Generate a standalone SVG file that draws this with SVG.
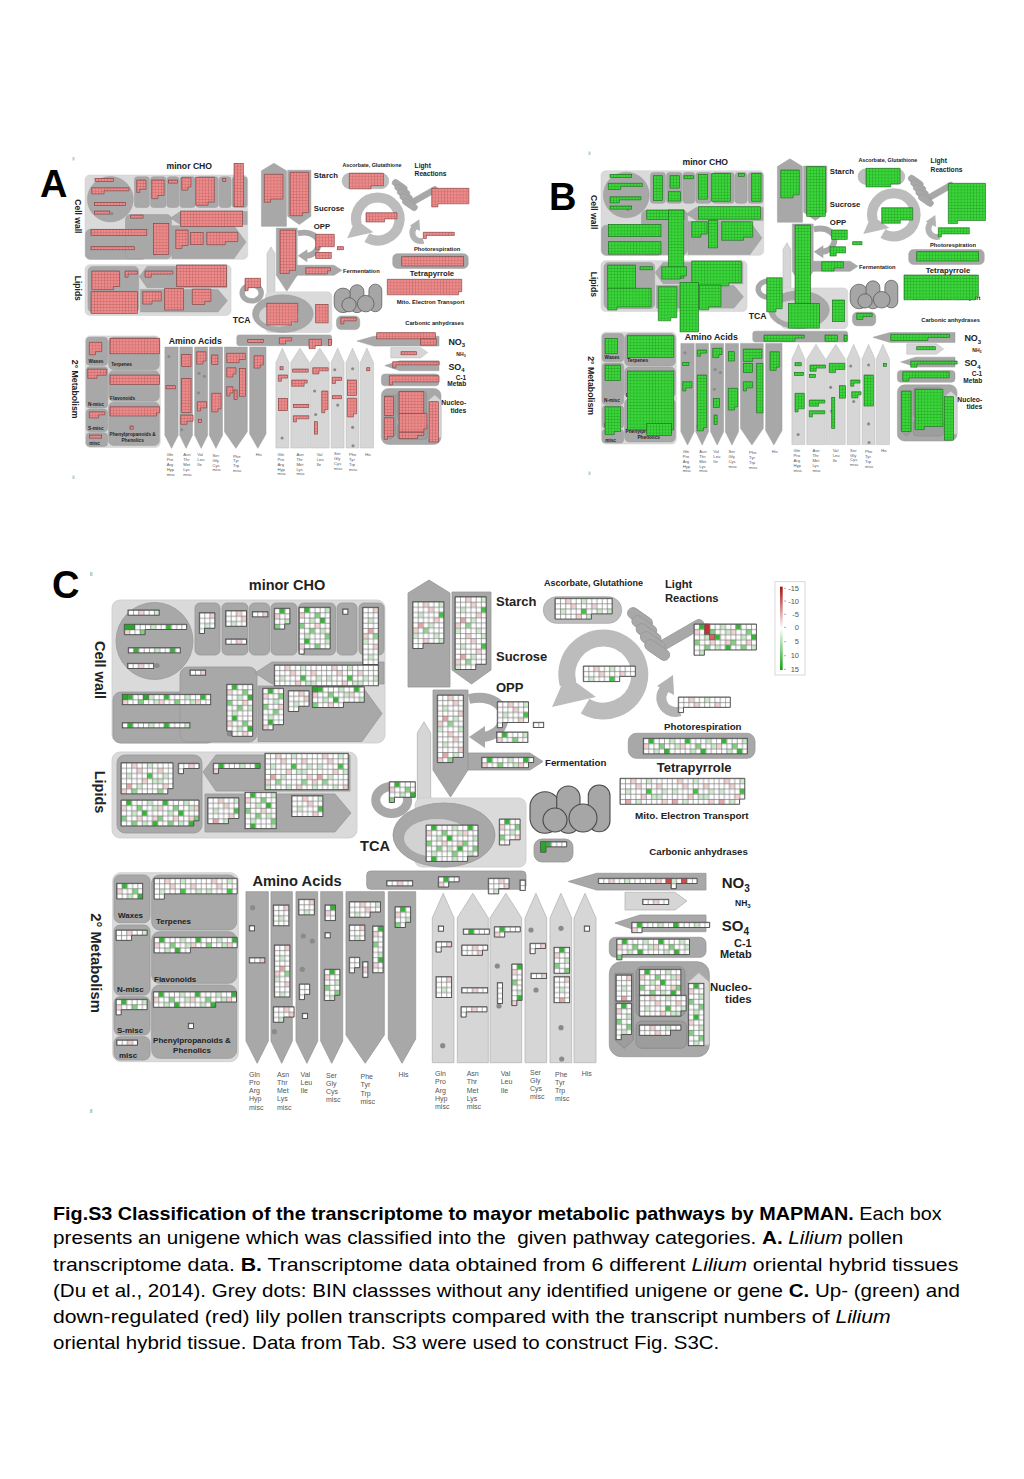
<svg xmlns="http://www.w3.org/2000/svg" width="1024" height="1479" viewBox="0 0 1024 1479">
<style>
.lb{fill:#dadada;stroke:#cdcdcd;stroke-width:.8}
.md{fill:#a8a8a8;stroke:#989898;stroke-width:.8}
.mn{fill:#9d9d9d;stroke:#888;stroke-width:.8}
.lt{fill:#d6d6d6;stroke:#b6b6b6;stroke-width:.8}
.mi{fill:#a6a6a6;stroke:#4a4a4a;stroke-width:1.1}
.dot{fill:#8a8a8a}
.t{font-family:"Liberation Sans",Arial,sans-serif;font-weight:bold;fill:#222}
.s{font-family:"Liberation Sans",Arial,sans-serif;fill:#555;font-size:7px}
.bc{fill:url(#gC);stroke:#4a4a4a;stroke-width:.9}
.bc2{fill:url(#gC2);stroke:#4a4a4a;stroke-width:.9}
.ba{fill:url(#gA);stroke:#7d3d3d;stroke-width:.6}
.bb{fill:url(#gB);stroke:#1a6a1a;stroke-width:.6}
.ov rect{stroke:#555;stroke-width:.6}
.cap{font-family:"Liberation Sans",Arial,sans-serif;font-size:18.5px;fill:#000}
.let{font-family:"Liberation Sans",Arial,sans-serif;font-weight:bold;font-size:38px;fill:#000}
</style>
<defs>
<pattern id="gC" width="46.8" height="36.4" patternUnits="userSpaceOnUse">
<rect width="46.8" height="36.4" fill="#fff"/>
<g fill="#f2d0d0"><rect x="10.4" y="0" width="5.2" height="5.2"/><rect x="36.4" y="5.2" width="5.2" height="5.2"/><rect x="20.8" y="15.6" width="5.2" height="5.2"/><rect x="0" y="26" width="5.2" height="5.2"/><rect x="31.2" y="31.2" width="5.2" height="5.2"/><rect x="41.6" y="20.8" width="5.2" height="5.2"/><rect x="15.6" y="5.2" width="5.2" height="5.2"/></g>
<rect x="5.2" y="20.8" width="5.2" height="5.2" fill="#e6a6a6"/>
<g fill="#cdebcd"><rect x="26" y="0" width="5.2" height="5.2"/><rect x="5.2" y="10.4" width="5.2" height="5.2"/><rect x="41.6" y="10.4" width="5.2" height="5.2"/><rect x="15.6" y="20.8" width="5.2" height="5.2"/><rect x="31.2" y="15.6" width="5.2" height="5.2"/><rect x="0" y="31.2" width="5.2" height="5.2"/><rect x="20.8" y="31.2" width="5.2" height="5.2"/><rect x="36.4" y="15.6" width="5.2" height="5.2"/></g>
<g fill="#8fd88f"><rect x="36.4" y="26" width="5.2" height="5.2"/><rect x="10.4" y="26" width="5.2" height="5.2"/></g>
<rect x="26" y="10.4" width="5.2" height="5.2" fill="#3ec43e"/>
<path d="M0.35 0V36.4M5.55 0V36.4M10.75 0V36.4M15.95 0V36.4M21.15 0V36.4M26.35 0V36.4M31.55 0V36.4M36.75 0V36.4M41.95 0V36.4M0 0.35H46.8M0 5.55H46.8M0 10.75H46.8M0 15.95H46.8M0 21.15H46.8M0 26.35H46.8M0 31.55H46.8" stroke="#7a7a7a" stroke-width=".7"/>
</pattern>
<pattern id="gC2" width="36.4" height="31.2" patternUnits="userSpaceOnUse">
<rect width="36.4" height="31.2" fill="#fff"/>
<g fill="#2eb82e"><rect x="5.2" y="0" width="5.2" height="5.2"/><rect x="20.8" y="10.4" width="5.2" height="5.2"/><rect x="31.2" y="20.8" width="5.2" height="5.2"/></g>
<g fill="#7dd37d"><rect x="15.6" y="5.2" width="5.2" height="5.2"/><rect x="0" y="15.6" width="5.2" height="5.2"/><rect x="26" y="26" width="5.2" height="5.2"/><rect x="10.4" y="20.8" width="5.2" height="5.2"/></g>
<g fill="#c9eac9"><rect x="26" y="0" width="5.2" height="5.2"/><rect x="10.4" y="10.4" width="5.2" height="5.2"/><rect x="31.2" y="5.2" width="5.2" height="5.2"/><rect x="5.2" y="26" width="5.2" height="5.2"/><rect x="20.8" y="20.8" width="5.2" height="5.2"/></g>
<g fill="#f2d2d2"><rect x="0" y="5.2" width="5.2" height="5.2"/><rect x="15.6" y="15.6" width="5.2" height="5.2"/><rect x="31.2" y="15.6" width="5.2" height="5.2"/></g>
<path d="M0.35 0V31.2M5.55 0V31.2M10.75 0V31.2M15.95 0V31.2M21.15 0V31.2M26.35 0V31.2M31.55 0V31.2M0 0.35H36.4M0 5.55H36.4M0 10.75H36.4M0 15.95H36.4M0 21.15H36.4M0 26.35H36.4" stroke="#7a7a7a" stroke-width=".7"/>
</pattern>
<pattern id="gA" width="3.1" height="3.1" patternUnits="userSpaceOnUse">
<rect width="3.1" height="3.1" fill="#f08a8a"/><path d="M0.2 0V3.1M0 0.2H3.1" stroke="#a35a5a" stroke-width=".4"/>
</pattern>
<pattern id="gB" width="3.1" height="3.1" patternUnits="userSpaceOnUse">
<rect width="3.1" height="3.1" fill="#3ad63a"/><path d="M0.2 0V3.1M0 0.2H3.1" stroke="#1f8a1f" stroke-width=".4"/>
</pattern>
<linearGradient id="lg" x1="0" y1="0" x2="0" y2="1"><stop offset="0" stop-color="#a81010"/><stop offset=".5" stop-color="#fff"/><stop offset="1" stop-color="#12a012"/></linearGradient>

<g id="map">
<g id="cellwall">
<rect class="lb" x="112" y="600" width="273" height="143" rx="8"/>
<circle class="md" cx="154.5" cy="641" r="38.5"/>
<rect class="md" x="195" y="603" width="25" height="52" rx="5"/>
<rect class="md" x="222" y="603" width="26" height="52" rx="5"/>
<rect class="md" x="249.5" y="603" width="20" height="52" rx="5"/>
<rect class="md" x="271" y="603" width="26" height="52" rx="5"/>
<rect class="md" x="298.5" y="603" width="37" height="52" rx="5"/>
<rect class="md" x="337" y="603" width="20" height="52" rx="5"/>
<rect class="md" x="359" y="603" width="25" height="52" rx="5"/>
<rect class="md" x="113" y="692" width="102" height="51" rx="8"/>
<rect class="md" x="180" y="667" width="77" height="75" rx="8"/>
<polygon class="md" points="255,673 272,662 384,662 384,684 272,684"/>
<polygon class="md" points="258,686 362,686 382,713.5 362,741.5 258,741.5"/>
<text class="t" x="287" y="590" font-size="14.5" text-anchor="middle">minor CHO</text>
<text class="t" transform="translate(95,670) rotate(90)" font-size="14.5" text-anchor="middle">Cell wall</text>
<circle class="dot" cx="157" cy="665.5" r="2.6"/>
<circle class="dot" cx="229.3" cy="733.7" r="2.6"/>
</g>
<g id="lipids">
<rect class="lb" x="112" y="752" width="245" height="86" rx="8"/>
<rect class="md" x="117" y="755" width="85" height="78" rx="8"/>
<polygon class="md" points="203,772 216,755 350,755 350,791 216,791"/>
<polygon class="md" points="205,794 335,794 351,813 335,832 205,832"/>
<text class="t" transform="translate(95,792) rotate(90)" font-size="14.5" text-anchor="middle">Lipids</text>
</g>
<g id="starch">
<polygon class="md" points="408,593 429,580 450,593 450,687 408,687"/>
<polygon class="md" points="452,592 491,592 491,670 471.5,684 452,670"/>
<text class="t" x="496" y="605.5" font-size="13">Starch</text>
<text class="t" x="496" y="661" font-size="13">Sucrose</text>
</g>
<g id="opp">
<polygon class="md" points="433,690 468,690 468,770 450.5,797 433,770"/>
<polygon class="md" points="468,753 530,753 543,761.5 530,770 468,770"/>
<path d="M469 699 C490 694 508 705 503 722 C500 732 492 736 483 737" fill="none" stroke="#a8a8a8" stroke-width="10"/>
<polygon fill="#a8a8a8" points="469,737 485,726 485,748"/>
<text class="t" x="496" y="692" font-size="13">OPP</text>
<text class="t" x="545" y="765.5" font-size="9.7">Fermentation</text>
</g>
<g id="tca">
<polygon class="lt" points="417.3,733 424,721.7 430.7,733 430.7,801 417.3,801"/>
<ellipse cx="391.7" cy="800" rx="16" ry="13.5" fill="none" stroke="#a8a8a8" stroke-width="9"/>
<rect class="lb" x="415" y="798" width="111" height="69" rx="7"/>
<ellipse class="md" cx="444" cy="835" rx="51" ry="32"/>
<ellipse cx="437" cy="838" rx="33" ry="19" fill="#d2d2d2"/>
<text class="t" x="360" y="850.7" font-size="14.6">TCA</text>
</g>
<g id="mito">
<rect class="mi" x="530" y="791.7" width="30" height="41.6" rx="15"/>
<rect class="mi" x="556.7" y="786" width="23.3" height="47.3" rx="11.6"/>
<rect class="mi" x="588.3" y="785" width="21.7" height="46.7" rx="10.8"/>
<circle class="mi" cx="555" cy="820" r="12"/>
<circle class="mi" cx="583" cy="818" r="14"/>
<rect class="md" x="534" y="839" width="39" height="23" rx="8"/>
<text class="t" x="635" y="818.5" font-size="9.9">Mito. Electron Transport</text>
<text class="t" x="649.3" y="855" font-size="9.7">Carbonic anhydrases</text>
</g>
<g id="light">
<rect x="543.3" y="596.7" width="78.4" height="26.6" rx="13.3" fill="#bdbdbd" stroke="#aaa" stroke-width=".8"/>
<text class="t" x="544" y="586" font-size="9">Ascorbate, Glutathione</text>
<rect class="md" x="-28" y="-5" width="56" height="10" rx="5" transform="translate(679,636) rotate(-30)"/>
<rect class="md" x="-14" y="-5.5" width="28" height="11" rx="5.5" transform="translate(640,618) rotate(35)"/>
<rect class="md" x="-14" y="-5.5" width="28" height="11" rx="5.5" transform="translate(644.3,626) rotate(35)"/>
<rect class="md" x="-14" y="-5.5" width="28" height="11" rx="5.5" transform="translate(648.6,634) rotate(35)"/>
<rect class="md" x="-14" y="-5.5" width="28" height="11" rx="5.5" transform="translate(652.9,642) rotate(35)"/>
<rect class="md" x="-14" y="-5.5" width="28" height="11" rx="5.5" transform="translate(657.2,650) rotate(35)"/>
<text class="t" x="665" y="587.5" font-size="11.2">Light</text>
<text class="t" x="665" y="601.5" font-size="11.2">Reactions</text>
<path d="M585.05 706.1 A36.5 36.5 0 1 0 568.04 683.95" fill="none" stroke="#bcbcbc" stroke-width="17"/>
<polygon fill="#bcbcbc" points="552,707 566,675 596,697"/>
<path d="M672.6 684.2 A14 14 0 1 0 679.8 711.2" fill="none" stroke="#b3b3b3" stroke-width="10"/>
<polygon fill="#b3b3b3" points="657,686 673,675 674,695"/>
<text class="t" x="664" y="729.5" font-size="9.7">Photorespiration</text>
<rect class="md" x="628.3" y="733.3" width="126.7" height="25" rx="8"/>
<text class="t" x="656.7" y="772" font-size="13">Tetrapyrrole</text>
</g>
<g id="nitrogen">
<polygon class="md" points="568.3,881.5 596.7,873.3 706,873.3 706,890 596.7,890"/>
<polygon class="lt" points="625,892.3 675,892.3 687,901 675,910 625,910"/>
<polygon class="md" points="615,923 640,915 706,915 706,931.7 640,931.7"/>
<rect class="md" x="609.3" y="937.3" width="96.7" height="20" rx="6"/>
<text class="t" x="721.7" y="888.3" font-size="15">NO<tspan font-size="10" dy="4">3</tspan></text>
<text class="t" x="735" y="906" font-size="8.5">NH<tspan font-size="6" dy="2">3</tspan></text>
<text class="t" x="721.7" y="930.5" font-size="15">SO<tspan font-size="10" dy="4">4</tspan></text>
<text class="t" x="751.7" y="947" font-size="11" text-anchor="end">C-1</text>
<text class="t" x="751.7" y="958" font-size="11" text-anchor="end">Metab</text>
</g>
<g id="nucleotides">
<rect class="md" x="609.3" y="961.7" width="100" height="95" rx="12"/>
<polygon class="mn" points="615,973.3 633.3,973.3 633.3,1040 624.2,1048.3 615,1040"/>
<rect class="mn" x="636" y="966.7" width="49" height="50" rx="6"/>
<rect class="mn" x="636" y="1021" width="50.7" height="27.3" rx="6"/>
<polygon class="lt" points="688.3,982 698.8,972.7 709.3,982 709.3,1045 688.3,1045"/>
<text class="t" x="751.7" y="990.5" font-size="11.4" text-anchor="end">Nucleo-</text>
<text class="t" x="751.7" y="1003.3" font-size="11.4" text-anchor="end">tides</text>
</g>
<g id="secondary">
<rect class="lb" x="112.7" y="872.7" width="125.6" height="189" rx="8"/>
<rect class="md" x="114" y="875" width="36" height="47.7" rx="6"/>
<rect class="md" x="114" y="925" width="36" height="70" rx="6"/>
<rect class="md" x="114" y="996.7" width="36" height="38.3" rx="6"/>
<rect class="md" x="114" y="1036.7" width="36" height="23.3" rx="6"/>
<rect class="md" x="151.7" y="875" width="85" height="55" rx="8"/>
<rect class="md" x="151.7" y="931.7" width="85" height="51.6" rx="8"/>
<rect class="md" x="151.7" y="985" width="85" height="73.3" rx="8"/>
<text class="t" transform="translate(91,963) rotate(90)" font-size="14.8" text-anchor="middle">2° Metabolism</text>
<g font-size="8" style="fill:#333">
<text class="t" x="118" y="918">Waxes</text>
<text class="t" x="156" y="924">Terpenes</text>
<text class="t" x="154" y="981.5">Flavonoids</text>
<text class="t" x="117" y="991.5">N-misc</text>
<text class="t" x="117" y="1032.5">S-misc</text>
<text class="t" x="119" y="1057.5">misc</text>
<text class="t" x="192" y="1043" text-anchor="middle">Phenylpropanoids &amp;</text>
<text class="t" x="192" y="1053" text-anchor="middle">Phenolics</text>
</g>
</g>
<g id="aminoacids">
<rect class="md" x="366.7" y="871" width="159.3" height="18.3" rx="4"/>
<polygon class="md" points="246,891.7 268.3,891.7 268.3,1041 257.2,1063.3 246,1041"/>
<polygon class="md" points="271,891.7 292.3,891.7 292.3,1041 281.7,1063.3 271,1041"/>
<polygon class="md" points="296,891.7 317.7,891.7 317.7,1041 306.9,1063.3 296,1041"/>
<polygon class="md" points="320.7,891.7 342.7,891.7 342.7,1041 331.7,1063.3 320.7,1041"/>
<polygon class="md" points="346,891.7 384.3,891.7 384.3,1035 365.2,1063.3 346,1035"/>
<polygon class="md" points="388.3,891.7 415.7,891.7 415.7,1039 402,1063.3 388.3,1039"/>
<polygon class="lt" points="432.3,918 443.2,893.3 454,918 454,1062.7 432.3,1062.7"/>
<polygon class="lt" points="457.3,918 472.8,893.3 488.3,918 488.3,1062.7 457.3,1062.7"/>
<polygon class="lt" points="490,918 505.9,893.3 521.7,918 521.7,1062.7 490,1062.7"/>
<polygon class="lt" points="525,918 535.9,893.3 546.7,918 546.7,1062.7 525,1062.7"/>
<polygon class="lt" points="550,918 560.9,893.3 571.7,918 571.7,1062.7 550,1062.7"/>
<polygon class="lt" points="574,918 585,893.3 596,918 596,1062.7 574,1062.7"/>
<text class="t" x="297" y="886" font-size="14.7" text-anchor="middle">Amino Acids</text>
<circle class="dot" cx="252.7" cy="907.7" r="2.6"/>
<circle class="dot" cx="274.3" cy="1031.7" r="2.6"/>
<circle class="dot" cx="303.3" cy="936" r="2.6"/>
<circle class="dot" cx="312.3" cy="941" r="2.6"/>
<circle class="dot" cx="302.3" cy="969.3" r="2.6"/>
<circle class="dot" cx="442.7" cy="1045.7" r="2.6"/>
<circle class="dot" cx="497.3" cy="966" r="2.6"/>
<circle class="dot" cx="499" cy="1006" r="2.6"/>
<circle class="dot" cx="531" cy="930" r="2.6"/>
<circle class="dot" cx="536" cy="990" r="2.6"/>
<circle class="dot" cx="561" cy="928.3" r="2.6"/>
<circle class="dot" cx="561" cy="1027.7" r="2.6"/>
<circle class="dot" cx="561.7" cy="1059" r="2.6"/>
<text class="s" x="249" y="1076.5"><tspan x="249">Gln</tspan><tspan x="249" dy="8.3">Pro</tspan><tspan x="249" dy="8.3">Arg</tspan><tspan x="249" dy="8.3">Hyp</tspan><tspan x="249" dy="8.3">misc</tspan></text>
<text class="s" x="277" y="1076.5"><tspan x="277">Asn</tspan><tspan x="277" dy="8.3">Thr</tspan><tspan x="277" dy="8.3">Met</tspan><tspan x="277" dy="8.3">Lys</tspan><tspan x="277" dy="8.3">misc</tspan></text>
<text class="s" x="300.5" y="1076.5"><tspan x="300.5">Val</tspan><tspan x="300.5" dy="8.3">Leu</tspan><tspan x="300.5" dy="8.3">Ile</tspan></text>
<text class="s" x="326" y="1077.5"><tspan x="326">Ser</tspan><tspan x="326" dy="8.3">Gly</tspan><tspan x="326" dy="8.3">Cys</tspan><tspan x="326" dy="8.3">misc</tspan></text>
<text class="s" x="360.5" y="1079"><tspan x="360.5">Phe</tspan><tspan x="360.5" dy="8.3">Tyr</tspan><tspan x="360.5" dy="8.3">Trp</tspan><tspan x="360.5" dy="8.3">misc</tspan></text>
<text class="s" x="398.5" y="1076.5">His</text>
<text class="s" x="435" y="1076"><tspan x="435">Gln</tspan><tspan x="435" dy="8.3">Pro</tspan><tspan x="435" dy="8.3">Arg</tspan><tspan x="435" dy="8.3">Hyp</tspan><tspan x="435" dy="8.3">misc</tspan></text>
<text class="s" x="466.7" y="1076"><tspan x="466.7">Asn</tspan><tspan x="466.7" dy="8.3">Thr</tspan><tspan x="466.7" dy="8.3">Met</tspan><tspan x="466.7" dy="8.3">Lys</tspan><tspan x="466.7" dy="8.3">misc</tspan></text>
<text class="s" x="500.7" y="1076"><tspan x="500.7">Val</tspan><tspan x="500.7" dy="8.3">Leu</tspan><tspan x="500.7" dy="8.3">Ile</tspan></text>
<text class="s" x="530" y="1074.5"><tspan x="530">Ser</tspan><tspan x="530" dy="8.3">Gly</tspan><tspan x="530" dy="8.3">Cys</tspan><tspan x="530" dy="8.3">misc</tspan></text>
<text class="s" x="555" y="1076.5"><tspan x="555">Phe</tspan><tspan x="555" dy="8.3">Tyr</tspan><tspan x="555" dy="8.3">Trp</tspan><tspan x="555" dy="8.3">misc</tspan></text>
<text class="s" x="581.7" y="1076">His</text>
</g>
</g>
</defs>

<rect width="1024" height="1479" fill="#fff"/>

<g id="panelA">
<use href="#map" transform="translate(18.25,-179) scale(0.596,0.59)"/>
<g id="blocksA">
<rect class="ba" transform="translate(95 178.3)" width="18.6" height="3.1"/>
<path class="ba" transform="translate(91.7 187.7)" d="M0 0H37.2V3.1H12.4V6.2H0Z"/>
<rect class="ba" transform="translate(94.3 202.3)" width="31" height="3.1"/>
<rect class="ba" transform="translate(94.3 211)" width="15.5" height="3.1"/>
<rect class="ba" transform="translate(130.7 215)" width="12.4" height="3.1"/>
<rect class="ba" transform="translate(91 229.3)" width="55.8" height="6.2"/>
<rect class="ba" transform="translate(91 246.7)" width="43.4" height="3.1"/>
<rect class="ba" transform="translate(153.3 223.3)" width="15.5" height="31"/>
<path class="ba" transform="translate(136.7 180)" d="M0 0H9.3V9.3H3.1V12.4H0Z"/>
<path class="ba" transform="translate(151.7 180)" d="M0 0H12.4V15.5H6.2V18.6H0Z"/>
<rect class="ba" transform="translate(168.3 180)" width="9.3" height="3.1"/>
<path class="ba" transform="translate(181.7 177.7)" d="M0 0H9.3V9.3H6.2V12.4H0Z"/>
<path class="ba" transform="translate(195.7 177.3)" d="M0 0H18.6V24.8H12.4V27.9H0Z"/>
<rect class="ba" transform="translate(222.7 178.3)" width="3.1" height="3.1"/>
<rect class="ba" transform="translate(234 163.3)" width="9.3" height="43.4"/>
<rect class="ba" transform="translate(180.7 211)" width="62" height="15.5"/>
<path class="ba" transform="translate(175.7 230)" d="M0 0H12.4V15.5H6.2V18.6H0Z"/>
<rect class="ba" transform="translate(190.7 232.3)" width="12.4" height="12.4"/>
<path class="ba" transform="translate(206.7 232.3)" d="M0 0H31V9.3H18.6V12.4H0Z"/>
<path class="ba" transform="translate(91.7 271)" d="M0 0H27.9V15.5H21.7V18.6H0Z"/>
<path class="ba" transform="translate(125 271)" d="M0 0H12.4V3.1H3.1V6.2H0Z"/>
<path class="ba" transform="translate(145 271)" d="M0 0H27.9V3.1H6.2V6.2H0Z"/>
<rect class="ba" transform="translate(176.7 265)" width="49.6" height="21.7"/>
<rect class="ba" transform="translate(91 291.7)" width="46.5" height="21.7"/>
<path class="ba" transform="translate(142.7 291.7)" d="M0 0H18.6V9.3H9.3V12.4H0Z"/>
<rect class="ba" transform="translate(164.7 288.3)" width="18.6" height="21.7"/>
<path class="ba" transform="translate(192.3 289)" d="M0 0H18.6V12.4H12.4V15.5H0Z"/>
<path class="ba" transform="translate(245 278.3)" d="M0 0H15.5V9.3H3.1V12.4H0Z"/>
<path class="ba" transform="translate(266.7 303.3)" d="M0 0H31V18.6H24.8V21.7H0Z"/>
<rect class="ba" transform="translate(315.7 304.3)" width="12.4" height="18.6"/>
<path class="ba" transform="translate(340.7 317.7)" d="M0 0H15.5V3.1H3.1V6.2H0Z"/>
<path class="ba" transform="translate(264.3 174.3)" d="M0 0H18.6V24.8H6.2V27.9H0Z"/>
<path class="ba" transform="translate(290 172.3)" d="M0 0H18.6V40.3H12.4V43.4H0Z"/>
<path class="ba" transform="translate(280 230)" d="M0 0H15.5V40.3H9.3V43.4H0Z"/>
<path class="ba" transform="translate(315.7 234.3)" d="M0 0H18.6V12.4H3.1V15.5H0Z"/>
<rect class="ba" transform="translate(337.3 246.7)" width="6.2" height="3.1"/>
<rect class="ba" transform="translate(315.7 252.3)" width="15.5" height="6.2"/>
<path class="ba" transform="translate(305.7 267.7)" d="M0 0H24.8V3.1H21.7V6.2H0Z"/>
<path class="ba" transform="translate(349.3 173.3)" d="M0 0H34.1V12.4H21.7V15.5H0Z"/>
<path class="ba" transform="translate(431.7 188.3)" d="M0 0H37.2V15.5H6.2V18.6H0Z"/>
<path class="ba" transform="translate(366 212.7)" d="M0 0H31V6.2H18.6V9.3H0Z"/>
<path class="ba" transform="translate(423.3 232.3)" d="M0 0H31V3.1H3.1V6.2H0Z"/>
<rect class="ba" transform="translate(401.7 256.7)" width="62" height="9.3"/>
<path class="ba" transform="translate(387.3 279.3)" d="M0 0H74.4V12.4H71.3V15.5H0Z"/>
<rect class="ba" transform="translate(247.7 339.3)" width="15.5" height="3.1"/>
<path class="ba" transform="translate(279.3 337.7)" d="M0 0H12.4V3.1H6.2V6.2H0Z"/>
<path class="ba" transform="translate(309 339.3)" d="M0 0H12.4V6.2H6.2V9.3H0Z"/>
<rect class="ba" transform="translate(328.3 339.3)" width="3.1" height="6.2"/>
<rect class="ba" transform="translate(376.7 332.7)" width="58.9" height="6.2"/>
<rect class="ba" transform="translate(420.7 338.9)" width="15.5" height="6.2"/>
<rect class="ba" transform="translate(401 351.7)" width="15.5" height="3.1"/>
<path class="ba" transform="translate(392.7 361.7)" d="M0 0H46.5V3.1H3.1V6.2H0Z"/>
<path class="ba" transform="translate(389.3 375.7)" d="M0 0H49.6V6.2H3.1V9.3H0Z"/>
<rect class="ba" transform="translate(384.3 396.7)" width="9.3" height="18.6"/>
<path class="ba" transform="translate(384.3 417.7)" d="M0 0H9.3V18.6H3.1V21.7H0Z"/>
<rect class="ba" transform="translate(399 391.7)" width="24.8" height="21.7"/>
<path class="ba" transform="translate(399 413.4)" d="M0 0H27.9V15.5H24.8V18.6H0Z"/>
<path class="ba" transform="translate(399 432.3)" d="M0 0H24.8V3.1H18.6V6.2H0Z"/>
<rect class="ba" transform="translate(429 401.7)" width="9.3" height="40.3"/>
<path class="ba" transform="translate(89.3 342.3)" d="M0 0H12.4V9.3H6.2V12.4H0Z"/>
<path class="ba" transform="translate(87.7 369)" d="M0 0H18.6V6.2H9.3V9.3H0Z"/>
<path class="ba" transform="translate(89.3 411.7)" d="M0 0H15.5V3.1H9.3V6.2H0Z"/>
<rect class="ba" transform="translate(89.3 435)" width="12.4" height="3.1"/>
<rect class="ba" transform="translate(110 338.3)" width="49.6" height="15.5"/>
<rect class="ba" transform="translate(110 375)" width="49.6" height="9.3"/>
<path class="ba" transform="translate(110 406.7)" d="M0 0H49.6V6.2H46.5V9.3H0Z"/>
<rect class="ba" transform="translate(130 426)" width="3.1" height="3.1"/>
<rect class="ba" transform="translate(166 385.7)" width="9.3" height="3.1"/>
<rect class="ba" transform="translate(181.7 354.3)" width="9.3" height="12.4"/>
<rect class="ba" transform="translate(181.7 378.3)" width="9.3" height="34.1"/>
<path class="ba" transform="translate(180.7 415)" d="M0 0H12.4V6.2H6.2V9.3H0Z"/>
<path class="ba" transform="translate(196.7 351.7)" d="M0 0H9.3V9.3H6.2V12.4H0Z"/>
<path class="ba" transform="translate(197.3 401.7)" d="M0 0H9.3V6.2H3.1V9.3H0Z"/>
<rect class="ba" transform="translate(198.3 419.3)" width="3.1" height="3.1"/>
<rect class="ba" transform="translate(211.7 355)" width="6.2" height="9.3"/>
<path class="ba" transform="translate(211.7 393.3)" d="M0 0H9.3V15.5H6.2V18.6H0Z"/>
<path class="ba" transform="translate(226.7 353.3)" d="M0 0H18.6V6.2H12.4V9.3H0Z"/>
<path class="ba" transform="translate(226.7 367.7)" d="M0 0H9.3V6.2H6.2V9.3H0Z"/>
<rect class="ba" transform="translate(239.3 368.3)" width="6.2" height="27.9"/>
<path class="ba" transform="translate(226.7 386.7)" d="M0 0H6.2V6.2H3.1V9.3H0Z"/>
<rect class="ba" transform="translate(234 390)" width="3.1" height="9.3"/>
<path class="ba" transform="translate(254 355.7)" d="M0 0H9.3V9.3H6.2V12.4H0Z"/>
<rect class="ba" transform="translate(280 366.7)" width="3.1" height="3.1"/>
<path class="ba" transform="translate(278.3 375)" d="M0 0H9.3V3.1H3.1V6.2H0Z"/>
<rect class="ba" transform="translate(278.3 398.3)" width="9.3" height="12.4"/>
<rect class="ba" transform="translate(292.7 369)" width="15.5" height="3.1"/>
<path class="ba" transform="translate(291.7 380)" d="M0 0H15.5V3.1H12.4V6.2H0Z"/>
<rect class="ba" transform="translate(293.3 404.3)" width="15.5" height="3.1"/>
<path class="ba" transform="translate(293.3 415.7)" d="M0 0H15.5V3.1H3.1V6.2H0Z"/>
<path class="ba" transform="translate(312.7 367.7)" d="M0 0H15.5V3.1H6.2V6.2H0Z"/>
<rect class="ba" transform="translate(314.3 421.7)" width="3.1" height="12.4"/>
<path class="ba" transform="translate(321.7 391)" d="M0 0H6.2V18.6H3.1V21.7H0Z"/>
<path class="ba" transform="translate(332.3 377.3)" d="M0 0H9.3V3.1H3.1V6.2H0Z"/>
<rect class="ba" transform="translate(332.3 395.7)" width="9.3" height="3.1"/>
<rect class="ba" transform="translate(347.3 380)" width="9.3" height="15.5"/>
<path class="ba" transform="translate(347.3 398.3)" d="M0 0H9.3V15.5H6.2V18.6H0Z"/>
<rect class="ba" transform="translate(366.7 367.7)" width="3.1" height="3.1"/>
</g>
<text class="let" x="40" y="197">A</text>
<rect x="72.5" y="157" width="2" height="3.5" fill="#b5d6bd"/>
<rect x="72.5" y="475.5" width="2" height="3.5" fill="#b5d6bd"/>
</g>

<g id="panelB">
<use href="#map" transform="translate(534.25,-184.5) scale(0.596,0.592)"/>
<g id="blocksB">
<rect class="bb" transform="translate(610 174.3)" width="21.7" height="3.1"/>
<path class="bb" transform="translate(608.3 183.3)" d="M0 0H34.1V3.1H12.4V6.2H0Z"/>
<path class="bb" transform="translate(610 196.7)" d="M0 0H31V3.1H9.3V6.2H0Z"/>
<rect class="bb" transform="translate(610 206)" width="21.7" height="3.1"/>
<rect class="bb" transform="translate(653.3 175.7)" width="9.3" height="24.8"/>
<rect class="bb" transform="translate(670 175.7)" width="9.3" height="12.4"/>
<rect class="bb" transform="translate(668.3 191.7)" width="12.4" height="9.3"/>
<rect class="bb" transform="translate(684 175.7)" width="9.3" height="3.1"/>
<rect class="bb" transform="translate(698.3 174.3)" width="9.3" height="24.8"/>
<rect class="bb" transform="translate(711.7 173.3)" width="18.6" height="27.9"/>
<rect class="bb" transform="translate(738.3 173.3)" width="6.2" height="3.1"/>
<rect class="bb" transform="translate(751.7 173.3)" width="9.3" height="27.9"/>
<rect class="bb" transform="translate(646.7 210)" width="37.2" height="9.3"/>
<rect class="bb" transform="translate(668.3 210)" width="15.5" height="68.2"/>
<rect class="bb" transform="translate(698.3 206.7)" width="62" height="12.4"/>
<path class="bb" transform="translate(691.7 221.7)" d="M0 0H15.5V12.4H9.3V15.5H0Z"/>
<rect class="bb" transform="translate(708.3 220)" width="9.3" height="27.9"/>
<path class="bb" transform="translate(721.7 221.7)" d="M0 0H31V15.5H21.7V18.6H0Z"/>
<rect class="bb" transform="translate(608.3 224.3)" width="52.7" height="12.4"/>
<rect class="bb" transform="translate(608.3 241.7)" width="52.7" height="12.4"/>
<rect class="bb" transform="translate(607.7 265)" width="27.9" height="24.8"/>
<path class="bb" transform="translate(607.7 288.3)" d="M0 0H43.4V18.6H9.3V21.7H0Z"/>
<rect class="bb" transform="translate(640 266.7)" width="12.4" height="3.1"/>
<path class="bb" transform="translate(661.7 266.7)" d="M0 0H24.8V9.3H18.6V12.4H0Z"/>
<path class="bb" transform="translate(691.7 261)" d="M0 0H49.6V21.7H37.2V24.8H0Z"/>
<rect class="bb" transform="translate(680 282.3)" width="18.6" height="49.6"/>
<path class="bb" transform="translate(658.3 286.7)" d="M0 0H18.6V31H12.4V34.1H0Z"/>
<path class="bb" transform="translate(699.3 285)" d="M0 0H21.7V21.7H9.3V24.8H0Z"/>
<path class="bb" transform="translate(780.7 170)" d="M0 0H18.6V24.8H12.4V27.9H0Z"/>
<rect class="bb" transform="translate(806.7 166.7)" width="18.6" height="49.6"/>
<rect class="bb" transform="translate(795 225)" width="15.5" height="80.6"/>
<rect class="bb" transform="translate(788.3 303.3)" width="31" height="24.8"/>
<rect class="bb" transform="translate(831.7 230)" width="15.5" height="9.3"/>
<rect class="bb" transform="translate(852.7 241.7)" width="9.3" height="3.1"/>
<path class="bb" transform="translate(830 246.7)" d="M0 0H15.5V6.2H6.2V9.3H0Z"/>
<path class="bb" transform="translate(821.7 261.7)" d="M0 0H21.7V6.2H12.4V9.3H0Z"/>
<path class="bb" transform="translate(766.7 277.7)" d="M0 0H15.5V31H9.3V34.1H0Z"/>
<rect class="bb" transform="translate(832.3 300)" width="12.4" height="21.7"/>
<path class="bb" transform="translate(856.7 313.3)" d="M0 0H15.5V3.1H6.2V6.2H0Z"/>
<path class="bb" transform="translate(866 168.3)" d="M0 0H34.1V15.5H24.8V18.6H0Z"/>
<path class="bb" transform="translate(948.3 183.3)" d="M0 0H37.2V37.2H9.3V40.3H0Z"/>
<path class="bb" transform="translate(881.7 207.7)" d="M0 0H31V12.4H18.6V15.5H0Z"/>
<path class="bb" transform="translate(938.3 227.7)" d="M0 0H31V6.2H3.1V9.3H0Z"/>
<rect class="bb" transform="translate(916.7 251.7)" width="62" height="9.3"/>
<path class="bb" transform="translate(904 275)" d="M0 0H74.4V21.7H71.3V24.8H0Z"/>
<path class="bb" transform="translate(764 335)" d="M0 0H40.3V3.1H31V6.2H0Z"/>
<rect class="bb" transform="translate(825 335)" width="12.4" height="6.2"/>
<rect class="bb" transform="translate(844 335)" width="3.1" height="6.2"/>
<path class="bb" transform="translate(890.7 334.3)" d="M0 0H58.9V3.1H37.2V6.2H0Z"/>
<rect class="bb" transform="translate(916.7 346.7)" width="18.6" height="3.1"/>
<path class="bb" transform="translate(910.7 361)" d="M0 0H46.5V3.1H6.2V6.2H0Z"/>
<path class="bb" transform="translate(902.7 371.7)" d="M0 0H46.5V6.2H6.2V9.3H0Z"/>
<rect class="bb" transform="translate(901.7 391)" width="9.3" height="40.3"/>
<path class="bb" transform="translate(915 389.3)" d="M0 0H27.9V37.2H9.3V40.3H0Z"/>
<rect class="bb" transform="translate(944.3 396.7)" width="9.3" height="43.4"/>
<rect class="bb" transform="translate(605 338.3)" width="12.4" height="15.5"/>
<rect class="bb" transform="translate(605 365)" width="15.5" height="15.5"/>
<path class="bb" transform="translate(605 406.7)" d="M0 0H15.5V24.8H9.3V27.9H0Z"/>
<rect class="bb" transform="translate(627.3 335.7)" width="46.5" height="21.7"/>
<rect class="bb" transform="translate(627.3 371)" width="46.5" height="58.9"/>
<rect class="bb" transform="translate(646.7 423.3)" width="24.8" height="12.4"/>
<rect class="bb" transform="translate(682.7 362.3)" width="6.2" height="3.1"/>
<path class="bb" transform="translate(682.7 381.7)" d="M0 0H9.3V6.2H3.1V9.3H0Z"/>
<path class="bb" transform="translate(697.3 350)" d="M0 0H9.3V3.1H3.1V6.2H0Z"/>
<path class="bb" transform="translate(697.3 375)" d="M0 0H9.3V52.7H6.2V55.8H0Z"/>
<path class="bb" transform="translate(712.7 348.3)" d="M0 0H9.3V6.2H6.2V9.3H0Z"/>
<rect class="bb" transform="translate(713.3 398.3)" width="6.2" height="9.3"/>
<rect class="bb" transform="translate(714 415)" width="3.1" height="9.3"/>
<rect class="bb" transform="translate(728.3 351.7)" width="6.2" height="9.3"/>
<path class="bb" transform="translate(728.3 388.3)" d="M0 0H9.3V18.6H6.2V21.7H0Z"/>
<path class="bb" transform="translate(743.3 349)" d="M0 0H18.6V9.3H9.3V12.4H0Z"/>
<rect class="bb" transform="translate(743.3 363.3)" width="9.3" height="9.3"/>
<rect class="bb" transform="translate(756.7 363.3)" width="6.2" height="49.6"/>
<path class="bb" transform="translate(743.3 381.7)" d="M0 0H9.3V6.2H3.1V9.3H0Z"/>
<path class="bb" transform="translate(770 351.7)" d="M0 0H9.3V15.5H6.2V18.6H0Z"/>
<rect class="bb" transform="translate(795 362.7)" width="6.2" height="3.1"/>
<rect class="bb" transform="translate(794.3 372.3)" width="9.3" height="3.1"/>
<path class="bb" transform="translate(795 393.3)" d="M0 0H9.3V15.5H3.1V18.6H0Z"/>
<path class="bb" transform="translate(810 365)" d="M0 0H15.5V3.1H6.2V6.2H0Z"/>
<rect class="bb" transform="translate(809.3 374.3)" width="6.2" height="3.1"/>
<path class="bb" transform="translate(809.3 400)" d="M0 0H15.5V3.1H9.3V6.2H0Z"/>
<path class="bb" transform="translate(809.3 410.7)" d="M0 0H15.5V3.1H3.1V6.2H0Z"/>
<path class="bb" transform="translate(829.3 363.3)" d="M0 0H15.5V6.2H6.2V9.3H0Z"/>
<rect class="bb" transform="translate(831.7 397.3)" width="3.1" height="31"/>
<rect class="bb" transform="translate(839.3 385.7)" width="6.2" height="12.4"/>
<path class="bb" transform="translate(850.7 380)" d="M0 0H9.3V3.1H3.1V6.2H0Z"/>
<path class="bb" transform="translate(851.7 391.7)" d="M0 0H9.3V3.1H6.2V6.2H0Z"/>
<rect class="bb" transform="translate(864 375)" width="9.3" height="31"/>
<rect class="bb" transform="translate(883.3 363.3)" width="3.1" height="3.1"/>
</g>
<text class="let" x="549" y="210">B</text>
<rect x="588.5" y="151.5" width="2" height="3.5" fill="#b5d6bd"/>
<rect x="588.5" y="471.5" width="2" height="3.5" fill="#b5d6bd"/>
</g>

<g id="panelC">
<use href="#map"/>
<g id="blocksC">
<rect class="bc" transform="translate(128 610)" width="31.2" height="5.2"/>
<path class="bc2" transform="translate(124.3 624.3)" d="M0 0H62.4V5.2H20.8V10.4H0Z"/>
<rect class="bc2" transform="translate(128.3 647.7)" width="52" height="5.2"/>
<rect class="bc" transform="translate(127.7 663.3)" width="26" height="5.2"/>
<rect class="bc" transform="translate(190 670)" width="15.6" height="5.2"/>
<rect class="bc2" transform="translate(122.3 694.3)" width="88.4" height="10.4"/>
<rect class="bc2" transform="translate(122.3 722.7)" width="67.6" height="5.2"/>
<path class="bc2" transform="translate(226.7 684.3)" d="M0 0H26V52H5.2V46.8H0Z"/>
<path class="bc" transform="translate(199.3 612.7)" d="M0 0H15.6V15.6H5.2V20.8H0Z"/>
<rect class="bc" transform="translate(225.7 610.7)" width="20.8" height="15.6"/>
<rect class="bc" transform="translate(225.7 639)" width="20.8" height="5.2"/>
<rect class="bc" transform="translate(252.3 611.7)" width="15.6" height="5.2"/>
<path class="bc2" transform="translate(274.3 608.3)" d="M0 0H15.6V15.6H10.4V20.8H0Z"/>
<path class="bc2" transform="translate(299 607.3)" d="M0 0H31.2V41.6H5.2V46.8H0Z"/>
<rect class="bc" transform="translate(342.7 609)" width="5.2" height="5.2"/>
<rect class="bc" transform="translate(362.7 607.3)" width="15.6" height="57.2"/>
<rect class="bc" transform="translate(274.3 665)" width="104" height="20.8"/>
<path class="bc2" transform="translate(262.7 688.3)" d="M0 0H20.8V36.4H10.4V41.6H0Z"/>
<path class="bc" transform="translate(288.3 690.7)" d="M0 0H20.8V15.6H10.4V20.8H0Z"/>
<path class="bc2" transform="translate(312.3 686.7)" d="M0 0H52V15.6H31.2V20.8H0Z"/>
<path class="bc" transform="translate(121 762.7)" d="M0 0H52V26H46.8V31.2H0Z"/>
<path class="bc" transform="translate(178.3 763.3)" d="M0 0H20.8V5.2H5.2V10.4H0Z"/>
<path class="bc2" transform="translate(213.3 763.3)" d="M0 0H46.8V5.2H5.2V10.4H0Z"/>
<rect class="bc" transform="translate(265 753.3)" width="83.2" height="36.4"/>
<path class="bc2" transform="translate(121 800)" d="M0 0H78V20.8H72.8V26H0Z"/>
<path class="bc" transform="translate(207.7 797.7)" d="M0 0H31.2V20.8H20.8V26H0Z"/>
<rect class="bc2" transform="translate(245 792.3)" width="31.2" height="36.4"/>
<rect class="bc" transform="translate(291.7 795.7)" width="31.2" height="20.8"/>
<path class="bc2" transform="translate(389.3 781.7)" d="M0 0H26V15.6H5.2V20.8H0Z"/>
<path class="bc2" transform="translate(426 825)" d="M0 0H52V31.2H41.6V36.4H0Z"/>
<path class="bc2" transform="translate(499.3 819)" d="M0 0H20.8V20.8H10.4V26H0Z"/>
<path class="bc2" transform="translate(540.7 841.7)" d="M0 0H26V5.2H5.2V10.4H0Z"/>
<path class="bc" transform="translate(412.7 601.7)" d="M0 0H31.2V41.6H10.4V46.8H0Z"/>
<path class="bc" transform="translate(455 596.7)" d="M0 0H31.2V67.6H20.8V72.8H0Z"/>
<path class="bc" transform="translate(437.3 695)" d="M0 0H26V62.4H15.6V67.6H0Z"/>
<path class="bc" transform="translate(497.3 701.7)" d="M0 0H31.2V20.8H5.2V26H0Z"/>
<rect class="bc" transform="translate(533.3 722.3)" width="10.4" height="5.2"/>
<rect class="bc2" transform="translate(496.7 732)" width="31.2" height="10.4"/>
<path class="bc2" transform="translate(481.7 757.3)" d="M0 0H52V5.2H46.8V10.4H0Z"/>
<path class="bc" transform="translate(555 598.3)" d="M0 0H57.2V15.6H36.4V20.8H0Z"/>
<path class="bc2" transform="translate(694 624)" d="M0 0H62.4V26H10.4V31.2H0Z"/>
<path class="bc" transform="translate(583.3 666)" d="M0 0H52V10.4H36.4V15.6H0Z"/>
<path class="bc" transform="translate(678.3 697)" d="M0 0H52V10.4H5.2V15.6H0Z"/>
<rect class="bc2" transform="translate(643.3 738.3)" width="104" height="15.6"/>
<path class="bc" transform="translate(620 778.3)" d="M0 0H124.8V20.8H119.6V26H0Z"/>
<rect class="bc" transform="translate(386.7 880.7)" width="26" height="5.2"/>
<path class="bc2" transform="translate(438.3 876.7)" d="M0 0H20.8V5.2H10.4V10.4H0Z"/>
<path class="bc" transform="translate(488.3 878.3)" d="M0 0H20.8V10.4H10.4V15.6H0Z"/>
<rect class="bc" transform="translate(520 880)" width="5.2" height="10.4"/>
<path class="bc" transform="translate(598.3 878.3)" d="M0 0H98.8V5.2H78V10.4H72.8V5.2H0Z"/>
<rect class="bc" transform="translate(642.7 899.3)" width="26" height="5.2"/>
<path class="bc2" transform="translate(631.7 922.3)" d="M0 0H78V5.2H10.4V10.4H0Z"/>
<path class="bc2" transform="translate(616.7 939)" d="M0 0H72.8V15.6H5.2V20.8H0Z"/>
<rect class="bc" transform="translate(616 975)" width="15.6" height="26"/>
<path class="bc2" transform="translate(616 1003.3)" d="M0 0H15.6V31.2H5.2V36.4H0Z"/>
<rect class="bc2" transform="translate(639.3 969.3)" width="41.6" height="26"/>
<path class="bc" transform="translate(639.3 995.3)" d="M0 0H46.8V15.6H41.6V20.8H0Z"/>
<path class="bc" transform="translate(639.3 1025)" d="M0 0H41.6V5.2H31.2V10.4H0Z"/>
<rect class="bc2" transform="translate(688.3 983.3)" width="15.6" height="62.4"/>
<rect class="bc2" transform="translate(116.7 883.3)" width="26" height="15.6"/>
<path class="bc" transform="translate(116 930)" d="M0 0H31.2V5.2H15.6V10.4H0Z"/>
<path class="bc2" transform="translate(116 999.3)" d="M0 0H31.2V10.4H5.2V15.6H0Z"/>
<rect class="bc" transform="translate(116.7 1040)" width="20.8" height="5.2"/>
<path class="bc" transform="translate(154 878.3)" d="M0 0H83.2V15.6H10.4V20.8H0Z"/>
<path class="bc2" transform="translate(154 937.3)" d="M0 0H83.2V10.4H36.4V15.6H0Z"/>
<path class="bc2" transform="translate(153.3 991.7)" d="M0 0H83.2V10.4H62.4V15.6H0Z"/>
<rect class="bc2" transform="translate(188.3 1023.3)" width="5.2" height="5.2"/>
<rect class="bc" transform="translate(249.3 925.7)" width="5.2" height="5.2"/>
<rect class="bc" transform="translate(249.3 957.7)" width="15.6" height="5.2"/>
<rect class="bc" transform="translate(273.3 905)" width="15.6" height="20.8"/>
<rect class="bc" transform="translate(274.3 945)" width="15.6" height="52"/>
<path class="bc" transform="translate(273.3 1006.7)" d="M0 0H20.8V10.4H10.4V15.6H0Z"/>
<rect class="bc" transform="translate(298.7 899.3)" width="15.6" height="15.6"/>
<path class="bc" transform="translate(299.3 984)" d="M0 0H10.4V10.4H5.2V15.6H0Z"/>
<rect class="bc" transform="translate(302.3 1013.3)" width="5.2" height="5.2"/>
<rect class="bc2" transform="translate(325 905)" width="10.4" height="15.6"/>
<rect class="bc" transform="translate(325 932.7)" width="5.2" height="5.2"/>
<path class="bc2" transform="translate(324.3 969.3)" d="M0 0H15.6V26H10.4V31.2H0Z"/>
<path class="bc" transform="translate(349.3 901.7)" d="M0 0H31.2V10.4H20.8V15.6H0Z"/>
<rect class="bc" transform="translate(349.3 925)" width="15.6" height="15.6"/>
<rect class="bc2" transform="translate(372.7 926)" width="10.4" height="46.8"/>
<path class="bc" transform="translate(349.3 957.3)" d="M0 0H10.4V10.4H5.2V15.6H0Z"/>
<rect class="bc2" transform="translate(362.7 961.7)" width="5.2" height="15.6"/>
<path class="bc2" transform="translate(395 906.7)" d="M0 0H15.6V15.6H10.4V20.8H0Z"/>
<rect class="bc" transform="translate(438.3 926)" width="5.2" height="5.2"/>
<path class="bc" transform="translate(436 941.7)" d="M0 0H15.6V5.2H5.2V10.4H0Z"/>
<rect class="bc" transform="translate(436 976.7)" width="15.6" height="20.8"/>
<rect class="bc2" transform="translate(463.3 929)" width="26" height="5.2"/>
<path class="bc" transform="translate(461.7 945)" d="M0 0H26V5.2H20.8V10.4H0Z"/>
<rect class="bc" transform="translate(461.7 987.7)" width="26" height="5.2"/>
<path class="bc" transform="translate(461 1006.7)" d="M0 0H26V5.2H5.2V10.4H0Z"/>
<path class="bc2" transform="translate(494.3 926.7)" d="M0 0H26V5.2H10.4V10.4H0Z"/>
<rect class="bc" transform="translate(497.3 982.7)" width="5.2" height="20.8"/>
<path class="bc2" transform="translate(511.7 964)" d="M0 0H10.4V36.4H5.2V41.6H0Z"/>
<path class="bc" transform="translate(530 943.3)" d="M0 0H15.6V5.2H5.2V10.4H0Z"/>
<rect class="bc" transform="translate(531 973.3)" width="15.6" height="5.2"/>
<rect class="bc2" transform="translate(554 947.3)" width="15.6" height="26"/>
<rect class="bc" transform="translate(554 976.7)" width="15.6" height="26"/>
<rect class="bc" transform="translate(584.3 926)" width="5.2" height="5.2"/>
<g class="ov">
<rect fill="#c43030" x="704.4" y="624" width="5.2" height="10.4"/>
<rect fill="#d86060" x="709.6" y="634.4" width="5.2" height="5.2"/>
<rect fill="#d04848" x="665.9" y="878.3" width="5.2" height="5.2"/>
<rect fill="#d04848" x="681.5" y="878.3" width="5.2" height="5.2"/>
<rect fill="#28a828" x="124.3" y="624.3" width="10.4" height="5.2"/>
<rect fill="#28a828" x="122.3" y="694.3" width="5.2" height="5.2"/>
<rect fill="#28a828" x="143.1" y="694.3" width="5.2" height="5.2"/>
<rect fill="#28a828" x="312.3" y="686.7" width="5.2" height="5.2"/>
<rect fill="#28a828" x="540.7" y="841.7" width="5.2" height="10.4"/>
</g>
</g>
<g id="legend">
<rect x="775" y="581.7" width="30" height="93.3" fill="#fff" stroke="#d0d0d0" stroke-width=".8"/>
<rect x="780" y="586.7" width="2.7" height="83.3" fill="url(#lg)"/>
<path d="M784 588.3H786M784 601H786M784 614.3H786M784 627.3H786M784 641.7H786M784 655.7H786M784 669.3H786" stroke="#777" stroke-width=".6"/>
<g font-family="Liberation Sans, Arial, sans-serif" font-size="7.5" fill="#555" text-anchor="end">
<text x="799" y="591">-15</text>
<text x="799" y="603.7">-10</text>
<text x="799" y="617">-5</text>
<text x="799" y="630">0</text>
<text x="799" y="644.4">5</text>
<text x="799" y="658.4">10</text>
<text x="799" y="672">15</text>
</g>
</g>
<text class="let" x="52" y="598">C</text>
<rect x="90" y="572" width="2.5" height="4" fill="#b5d6bd"/>
<rect x="90" y="1109" width="2.5" height="4" fill="#b5d6bd"/>
</g>

<g id="caption" class="cap">
<text x="53" y="1220" textLength="888.7" lengthAdjust="spacingAndGlyphs"><tspan font-weight="bold">Fig.S3 Classification of the transcriptome to mayor metabolic pathways by MAPMAN.</tspan> Each box</text>
<text x="53" y="1244.3" textLength="850.3" lengthAdjust="spacingAndGlyphs" xml:space="preserve">presents an unigene which was classified into the  given pathway categories. <tspan font-weight="bold">A.</tspan> <tspan font-style="italic">Lilium</tspan> pollen</text>
<text x="53" y="1271" textLength="905.3" lengthAdjust="spacingAndGlyphs">transcriptome data. <tspan font-weight="bold">B.</tspan> Transcriptome data obtained from 6 different <tspan font-style="italic">Lilium</tspan> oriental hybrid tissues</text>
<text x="53" y="1296.7" textLength="907" lengthAdjust="spacingAndGlyphs">(Du et al., 2014). Grey dots: BIN classses without any identified unigene or gene <tspan font-weight="bold">C.</tspan> Up- (green) and</text>
<text x="53" y="1323.3" textLength="837.7" lengthAdjust="spacingAndGlyphs">down-regulated (red) lily pollen transcripts compared with the transcript numbers of <tspan font-style="italic">Lilium</tspan></text>
<text x="53" y="1349" textLength="666.3" lengthAdjust="spacingAndGlyphs">oriental hybrid tissue. Data from Tab. S3 were used to construct Fig. S3C.</text>
</g>
</svg>
